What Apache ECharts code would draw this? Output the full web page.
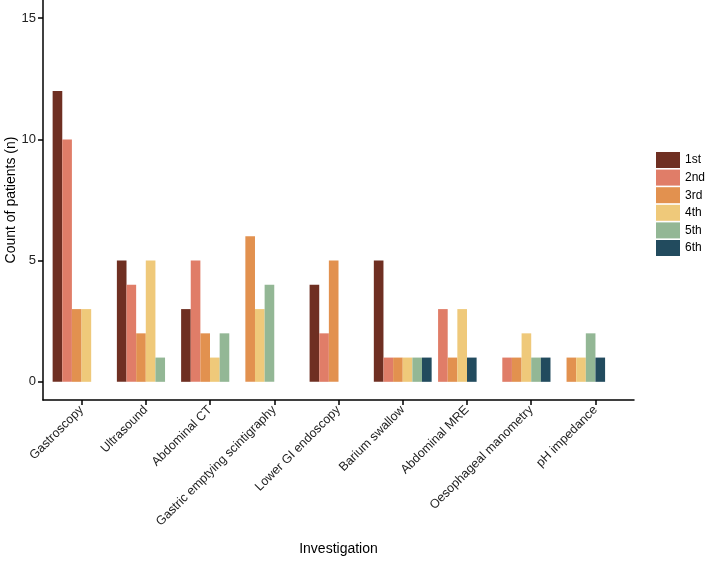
<!DOCTYPE html>
<html><head><meta charset="utf-8">
<script src="https://cdn.jsdelivr.net/npm/echarts@6/dist/echarts.min.js"></script>
<style>html,body{margin:0;padding:0;background:#fff}#c{width:706px;height:561px}</style>
</head><body><div id="c"></div>
<script>
const categories = ['Gastroscopy','Ultrasound','Abdominal CT','Gastric emptying scintigraphy','Lower GI endoscopy','Barium swallow','Abdominal MRE','Oesophageal manometry','pH impedance'];
const ranks = ['1st','2nd','3rd','4th','5th','6th'];
const first  = [12, 5, 3, 0, 4, 5, 0, 0, 0];
const second = [10, 4, 5, 0, 2, 1, 3, 1, 0];
const third  = [ 3, 2, 2, 6, 5, 1, 1, 1, 1];
const fourth = [ 3, 5, 1, 3, 0, 1, 3, 2, 1];
const fifth  = [ 0, 1, 2, 4, 0, 1, 0, 1, 2];
const sixth  = [ 0, 0, 0, 0, 0, 1, 1, 1, 1];
const yTicks = [0, 5, 10, 15];
const colors = ['#6F2F22','#E07D68','#E2914F','#EFC97A','#93B795','#224B5E'];

const seriesValues = [first, second, third, fourth, fifth, sixth];
const slotWidth = 0.15; // dodge width 0.9 / 6
// dodge (preserve single, left-aligned): zero counts are absent
const slotIndex = seriesValues.map(() => []);
categories.forEach((c, ci) => {
  let k = 0;
  seriesValues.forEach((vals, si) => {
    if (vals[ci] > 0) { slotIndex[si][ci] = k; k++; }
  });
});

const font = 'Liberation Sans, Arial, Helvetica, sans-serif';
const series = ranks.map((r, si) => ({
  name: r,
  type: 'custom',
  itemStyle: { color: colors[si] },
  encode: { x: 0, y: 1 },
  data: seriesValues[si].map((v, ci) => v > 0 ? [ci + (slotIndex[si][ci] - 2.5) * slotWidth, v] : null).filter(d => d),
  renderItem: function (params, api) {
    const x = api.value(0), y = api.value(1);
    const p0 = api.coord([x - slotWidth / 2, y]);
    const p1 = api.coord([x + slotWidth / 2, 0]);
    return { type: 'rect', shape: { x: p0[0], y: p0[1], width: p1[0] - p0[0], height: p1[1] - p0[1] }, style: api.style() };
  }
}));

const chart = echarts.init(document.getElementById('c'), null, { renderer: 'canvas' });
chart.setOption({
  animation: false,
  textStyle: { fontFamily: font },
  color: colors,
  grid: { left: 43, top: 0, width: 591, height: 400, containLabel: false, outerBoundsMode: 'none' },
  legend: {
    orient: 'vertical', left: 651, top: 147,
    itemWidth: 24, itemHeight: 16, itemGap: 1.6,
    icon: 'rect',
    textStyle: { fontSize: 12, color: '#000', fontFamily: font },
    data: ranks
  },
  xAxis: {
    type: 'value', min: -0.6, max: 8.6,
    name: 'Investigation', nameLocation: 'middle', nameGap: 142, nameMoveOverlap: false,
    nameTextStyle: { fontSize: 14, color: '#000', fontFamily: font },
    splitLine: { show: false },
    axisLine: { show: true, onZero: false, lineStyle: { color: '#000', width: 1.5 } },
    axisTick: { show: true, customValues: categories.map((c, i) => i), length: 5, lineStyle: { color: '#000', width: 1.5 } },
    axisLabel: {
      customValues: categories.map((c, i) => i),
      formatter: v => categories[Math.round(v)],
      rotate: 45, fontSize: 12.5, color: '#222', margin: 8, fontFamily: font
    }
  },
  yAxis: {
    type: 'value', min: -0.75, max: 15.75,
    name: 'Count of patients (n)', nameLocation: 'middle', nameGap: 25, nameRotate: 90, nameMoveOverlap: false,
    nameTextStyle: { fontSize: 14, color: '#000', fontFamily: font },
    splitLine: { show: false },
    axisLine: { show: true, onZero: false, lineStyle: { color: '#000', width: 1.5 } },
    axisTick: { show: true, customValues: yTicks, length: 5, lineStyle: { color: '#000', width: 1.5 } },
    axisLabel: { customValues: yTicks, fontSize: 13, color: '#222', margin: 7, fontFamily: font }
  },
  series: series
});
</script></body></html>
